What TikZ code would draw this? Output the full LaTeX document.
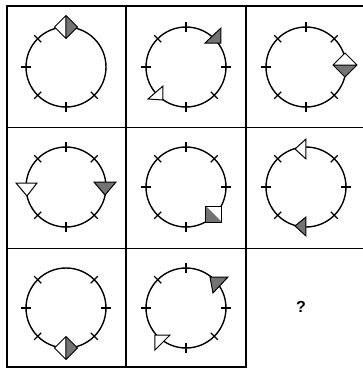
\documentclass[tikz,border=0pt]{standalone}
\usepackage{fontspec}
\setmainfont{Liberation Sans}
\newcommand\myticks[3]{%
  \foreach \a in {#3}
    \draw[tickline] ({#1+35*cos(\a)},{#2-35*sin(\a)}) -- ({#1+45*cos(\a)},{#2-45*sin(\a)});}
\begin{document}
\begin{tikzpicture}[x=1pt,y=-1pt,
  gridline/.style={line width=1.4pt},
  ring/.style={line width=1.4pt},
  tickline/.style={line width=1.1pt},
  hollow/.style={line width=1pt, fill=white, line join=miter},
  shaded/.style={line width=1pt, fill=black!55, line join=miter}]
\useasboundingbox (0,0) rectangle (363,368);
% grid
\draw[gridline] (7,368) -- (7,6) -- (363,6);
\draw[gridline] (126,6) -- (126,368);
\draw[gridline] (246,6) -- (246,368);
\draw[gridline] (7,127.5) -- (363,127.5);
\draw[gridline] (7,248.5) -- (363,248.5);
\draw[gridline] (7,367) -- (246,367);
% circles
\foreach \cx/\cy in {66/67,186/67,306/67,66/187,186/187,306/187,66/308,186/308}
  \draw[ring] (\cx,\cy) circle[radius=40pt];
% ticks
\myticks{66}{67}{135,180,225,270,315}
\myticks{186}{67}{0,90,135,180,270,315}
\myticks{306}{67}{45,90,135,180,225,270,315}
\myticks{66}{187}{45,90,135,225,270,315}
\myticks{186}{187}{0,45,90,135,180,225,270}
\myticks{306}{187}{0,45,135,180,225,315}
\myticks{66}{308}{0,45,135,180,225,315}
\myticks{186}{308}{0,90,135,180,270,315}
% cell 1: diamond at top
\fill[white] (54.5,27) -- (66,15.5) -- (77.5,27) -- (66,38.5) -- cycle;
\fill[black!55] (66,15.5) -- (77.5,27) -- (66,38.5) -- cycle;
\draw[hollow,fill=none] (54.5,27) -- (66,15.5) -- (77.5,27) -- (66,38.5) -- cycle (66,15.5) -- (66,38.5);
% cell 2: triangles
\draw[shaded] (205,43) -- (221,28) -- (221,43) -- cycle;
\draw[hollow] (148,99) -- (163,86) -- (163,100) -- cycle;
% cell 3: diamond at right
\fill[white] (333,65) -- (345,53) -- (357,65) -- (345,77) -- cycle;
\fill[black!55] (333,65) -- (357,65) -- (345,77) -- cycle;
\draw[hollow,fill=none] (333,65) -- (345,53) -- (357,65) -- (345,77) -- cycle (333,65) -- (357,65);
% cell 4: inverted triangles
\draw[hollow] (16,183) -- (37,183) -- (27,196) -- cycle;
\draw[shaded] (94,182) -- (116,182) -- (105,195) -- cycle;
% cell 5: square
\fill[white] (206,206) rectangle (222,222);
\fill[black!55] (206,206) -- (222,222) -- (206,222) -- cycle;
\draw[hollow,fill=none] (206,206) rectangle (222,222);
% cell 6: left-pointing triangles
\draw[hollow] (295,149) -- (306,139) -- (306,159) -- cycle;
\draw[shaded] (295,226) -- (306,217) -- (306,236) -- cycle;
% cell 7: diamond at bottom
\fill[white] (54.5,348) -- (66,336.5) -- (77.5,348) -- (66,359.5) -- cycle;
\fill[black!55] (66,336.5) -- (77.5,348) -- (66,359.5) -- cycle;
\draw[hollow,fill=none] (54.5,348) -- (66,336.5) -- (77.5,348) -- (66,359.5) -- cycle (66,336.5) -- (66,359.5);
% cell 8: triangles
\draw[shaded] (210,277) -- (228,277) -- (213,293) -- cycle;
\draw[hollow] (155,335) -- (170,335) -- (155,350) -- cycle;
% cell 9
\node[font=\fontsize{16}{16}\selectfont\bfseries] (q) at (301,307) {?};
\end{tikzpicture}
\end{document}
